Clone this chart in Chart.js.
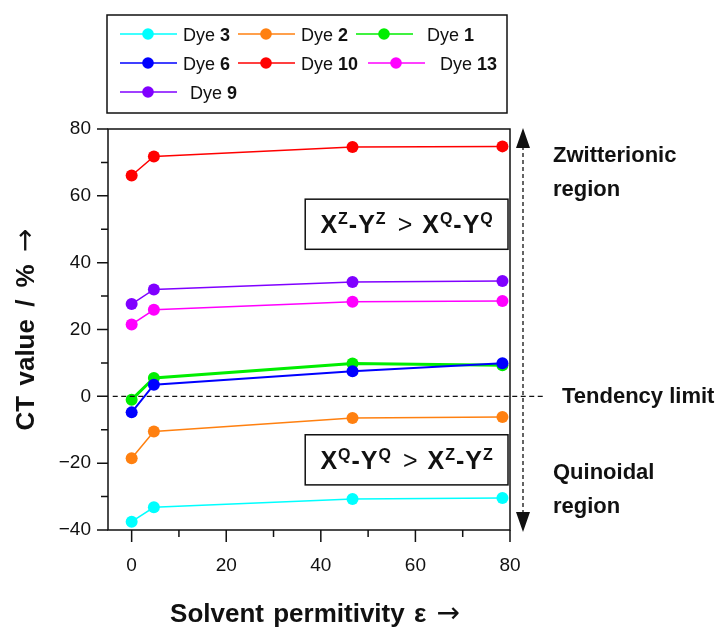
<!DOCTYPE html>
<html>
<head>
<meta charset="utf-8">
<title>CT value vs solvent permitivity</title>
<script src="https://cdn.jsdelivr.net/npm/chart.js@4.4.1/dist/chart.umd.min.js"></script>
<style>
    html, body { margin: 0; padding: 0; background: #fff; }
    #wrap { width: 724px; height: 627px; }
</style>
</head>
<body>
<div id="wrap"><canvas id="ctChart" width="724" height="627"></canvas></div>
<script>
// Solvent permitivity (x) and CT value in % for each dye
const permittivity = [0, 4.7, 46.7, 78.4];
const dye3  = [-37.5, -33.2, -30.7, -30.4];
const dye2  = [-18.5, -10.5, -6.5, -6.2];
const dye1  = [-1.0, 5.5, 9.8, 9.3];
const dye6  = [-4.8, 3.5, 7.5, 9.9];
const dye10 = [66.1, 71.8, 74.6, 74.8];
const dye13 = [21.5, 25.9, 28.3, 28.5];
const dye9  = [27.6, 32.0, 34.2, 34.5];

const dyeNames = ['3', '2', '1', '6', '10', '13', '9'];
const dyeValues = [dye3, dye2, dye1, dye6, dye10, dye13, dye9];
const dyeColors = ['#00ffff', '#ff8010', '#00ee00', '#0000ff', '#ff0000', '#ff00ff', '#8000ff'];
const dyeWidths = [1.5, 1.5, 3, 2, 1.5, 1.5, 1.5];

// ticks
const xTicks = [0, 10, 20, 30, 40, 50, 60, 70, 80];
const xMajor = [0, 20, 40, 60, 80];
const xTickLabels = ['0', '20', '40', '60', '80'];
const yTicks = [-40, -30, -20, -10, 0, 10, 20, 30, 40, 50, 60, 70, 80];
const yMajor = [-40, -20, 0, 20, 40, 60, 80];
const yTickLabels = ['\u221240', '\u221220', '0', '20', '40', '60', '80'];

const FONT = '"Liberation Sans", Arial, sans-serif';
const ARROW_FONT = '28px "DejaVu Sans", sans-serif';
const INK = '#111';

// legend layout: column, row, shift of line, extra gap before text
const legendLayout = [
    { col: 0, row: 0, shift: 0, gap: 0 },
    { col: 1, row: 0, shift: 0, gap: 0 },
    { col: 2, row: 0, shift: 0, gap: 8 },
    { col: 0, row: 1, shift: 0, gap: 0 },
    { col: 1, row: 1, shift: 0, gap: 0 },
    { col: 2, row: 1, shift: 12, gap: 9 },
    { col: 0, row: 2, shift: 0, gap: 7 }
];

// draws a sequence of text pieces with different fonts / raise
function drawRich(ctx, parts, x, y, align) {
    let total = 0;
    parts.forEach(p => {
        ctx.font = p.font;
        p.w = ctx.measureText(p.t).width + (p.sp || 0);
        total += p.w;
    });
    let cx = align === 'center' ? x - total / 2 : x;
    ctx.textAlign = 'left';
    ctx.textBaseline = 'alphabetic';
    parts.forEach(p => {
        ctx.font = p.font;
        ctx.fillText(p.t, cx, y - (p.dy || 0));
        cx += p.w;
    });
}

function relation(a, b) {
    const big = 'bold 25px ' + FONT;
    const sup = 'bold 16px ' + FONT;
    const rel = '25px ' + FONT;
    return [
        { t: 'X', font: big, sp: 1 }, { t: a, font: sup, dy: 9, sp: 1 },
        { t: '-', font: big, sp: 1 }, { t: 'Y', font: big, sp: 1 }, { t: a, font: sup, dy: 9, sp: 12 },
        { t: '>', font: rel, sp: 10 },
        { t: 'X', font: big, sp: 1 }, { t: b, font: sup, dy: 9, sp: 1 },
        { t: '-', font: big, sp: 1 }, { t: 'Y', font: big, sp: 1 }, { t: b, font: sup, dy: 9 }
    ];
}

const decorations = {
    id: 'decorations',
    afterDatasetsDraw(chart) {
        const ctx = chart.ctx;
        const area = chart.chartArea;
        const xs = chart.scales.x;
        const ys = chart.scales.y;
        ctx.save();

        // frame
        ctx.strokeStyle = INK;
        ctx.lineWidth = 1.5;
        ctx.strokeRect(area.left, area.top, area.right - area.left, area.bottom - area.top);

        // tick marks, major longer than minor
        ctx.beginPath();
        xs.ticks.forEach(t => {
            const px = xs.getPixelForValue(t.value);
            const len = t.value % 20 === 0 ? 12 : 7;
            ctx.moveTo(px, area.bottom);
            ctx.lineTo(px, area.bottom + len);
        });
        ys.ticks.forEach(t => {
            const py = ys.getPixelForValue(t.value);
            const len = t.value % 20 === 0 ? 11 : 7;
            ctx.moveTo(area.left, py);
            ctx.lineTo(area.left - len, py);
        });
        ctx.stroke();

        // tendency limit line
        const y0 = ys.getPixelForValue(0);
        ctx.lineWidth = 1.3;
        ctx.setLineDash([5, 3.5]);
        ctx.beginPath();
        ctx.moveTo(xs.getPixelForValue(-4), y0);
        ctx.lineTo(area.right + 33, y0);
        ctx.stroke();

        // vertical double arrow
        const ax = area.right + 13;
        const yTop = ys.getPixelForValue(80) - 1;
        const yBot = ys.getPixelForValue(-40) + 2;
        ctx.setLineDash([4, 3]);
        ctx.beginPath();
        ctx.moveTo(ax, yTop + 18);
        ctx.lineTo(ax, yBot - 18);
        ctx.stroke();
        ctx.setLineDash([]);
        ctx.fillStyle = INK;
        ctx.beginPath();
        ctx.moveTo(ax, yTop);
        ctx.lineTo(ax - 7, yTop + 20);
        ctx.lineTo(ax + 7, yTop + 20);
        ctx.closePath();
        ctx.moveTo(ax, yBot);
        ctx.lineTo(ax - 7, yBot - 20);
        ctx.lineTo(ax + 7, yBot - 20);
        ctx.closePath();
        ctx.fill();

        // region labels
        ctx.font = 'bold 22px ' + FONT;
        ctx.textAlign = 'left';
        ctx.textBaseline = 'alphabetic';
        ctx.fillText('Zwitterionic', area.right + 43, 162);
        ctx.fillText('region', area.right + 43, 196);
        ctx.fillText('Tendency limit', area.right + 52, y0 + 7);
        ctx.fillText('Quinoidal', area.right + 43, 479);
        ctx.fillText('region', area.right + 43, 513);

        // relation boxes
        const bl = xs.getPixelForValue(36.7);
        const br = area.right - 2;
        [[59, 44, 'Z', 'Q'], [-11.5, -26.5, 'Q', 'Z']].forEach(b => {
            const t = ys.getPixelForValue(b[0]);
            const h = ys.getPixelForValue(b[1]) - t;
            ctx.lineWidth = 1.5;
            ctx.strokeRect(bl, t, br - bl, h);
            drawRich(ctx, relation(b[2], b[3]), (bl + br) / 2, t + h / 2 + 9, 'center');
        });

        // legend
        const lx = [120, 238, 356];
        const ly = [34, 63, 92];
        ctx.strokeRect(area.left - 1, 15, area.right - area.left - 2, 98);
        dyeNames.forEach((name, i) => {
            const L = legendLayout[i];
            const x1 = lx[L.col] + L.shift;
            const yy = ly[L.row];
            ctx.strokeStyle = dyeColors[i];
            ctx.fillStyle = dyeColors[i];
            ctx.lineWidth = 1.5;
            ctx.beginPath();
            ctx.moveTo(x1, yy);
            ctx.lineTo(x1 + 57, yy);
            ctx.stroke();
            ctx.beginPath();
            ctx.arc(x1 + 28, yy, 5.8, 0, Math.PI * 2);
            ctx.fill();
            ctx.fillStyle = INK;
            drawRich(ctx, [
                { t: 'Dye ', font: '18px ' + FONT },
                { t: name, font: 'bold 18px ' + FONT }
            ], x1 + 63 + L.gap, yy + 7, 'left');
        });
        ctx.strokeStyle = INK;

        // axis titles
        ctx.fillStyle = INK;
        const titleFont = 'bold 26px ' + FONT;
        drawRich(ctx, [
            { t: 'Solvent ', font: titleFont, sp: 2 },
            { t: 'permitivity ', font: titleFont, sp: 2 },
            { t: '\u03b5 ', font: titleFont, sp: 3 },
            { t: '\u2192', font: ARROW_FONT }
        ], (area.left + area.right) / 2 + 6, 622, 'center');
        ctx.translate(34, (area.top + area.bottom) / 2);
        ctx.rotate(-Math.PI / 2);
        drawRich(ctx, [
            { t: 'CT ', font: titleFont, sp: 3 },
            { t: 'value ', font: titleFont, sp: 5 },
            { t: '/ ', font: titleFont, sp: 5 },
            { t: '% ', font: titleFont, sp: 5 },
            { t: '\u2192', font: ARROW_FONT }
        ], 0, 0, 'center');

        ctx.restore();
    }
};

document.addEventListener('DOMContentLoaded', function() {
    const ctx = document.getElementById('ctChart').getContext('2d');

    const datasets = dyeNames.map((name, i) => ({
        label: 'Dye ' + name,
        data: permittivity.map((x, j) => ({ x: x, y: dyeValues[i][j] })),
        borderColor: dyeColors[i],
        backgroundColor: dyeColors[i],
        borderWidth: dyeWidths[i],
        pointRadius: 6,
        pointBorderWidth: 0,
        pointHoverRadius: 6,
        tension: 0,
        fill: false,
        order: dyeNames.length - i
    }));

    const ctChart = new Chart(ctx, {
        type: 'line',
        data: { datasets: datasets },
        options: {
            responsive: false,
            devicePixelRatio: 1,
            animation: false,
            layout: { padding: { top: 129, right: 214, bottom: 0, left: 0 } },
            plugins: {
                legend: { display: false },
                tooltip: { enabled: false }
            },
            scales: {
                x: {
                    type: 'linear',
                    min: -5,
                    max: 80,
                    afterBuildTicks: s => { s.ticks = xTicks.map(v => ({ value: v })); },
                    afterFit: s => { s.height = 97; },
                    grid: { display: false, drawTicks: false },
                    border: { display: false },
                    ticks: {
                        autoSkip: false,
                        maxRotation: 0,
                        padding: 24,
                        color: INK,
                        font: { family: FONT, size: 19 },
                        callback: v => {
                            const k = xMajor.indexOf(v);
                            return k >= 0 ? xTickLabels[k] : '';
                        }
                    }
                },
                y: {
                    type: 'linear',
                    min: -40,
                    max: 80,
                    afterBuildTicks: s => { s.ticks = yTicks.map(v => ({ value: v })); },
                    afterFit: s => { s.width = 108; },
                    grid: { display: false, drawTicks: false },
                    border: { display: false },
                    ticks: {
                        autoSkip: false,
                        padding: 17,
                        color: INK,
                        font: { family: FONT, size: 19 },
                        callback: v => {
                            const k = yMajor.indexOf(v);
                            return k >= 0 ? yTickLabels[k] : '';
                        }
                    }
                }
            }
        },
        plugins: [decorations]
    });
});
</script>
</body>
</html>
